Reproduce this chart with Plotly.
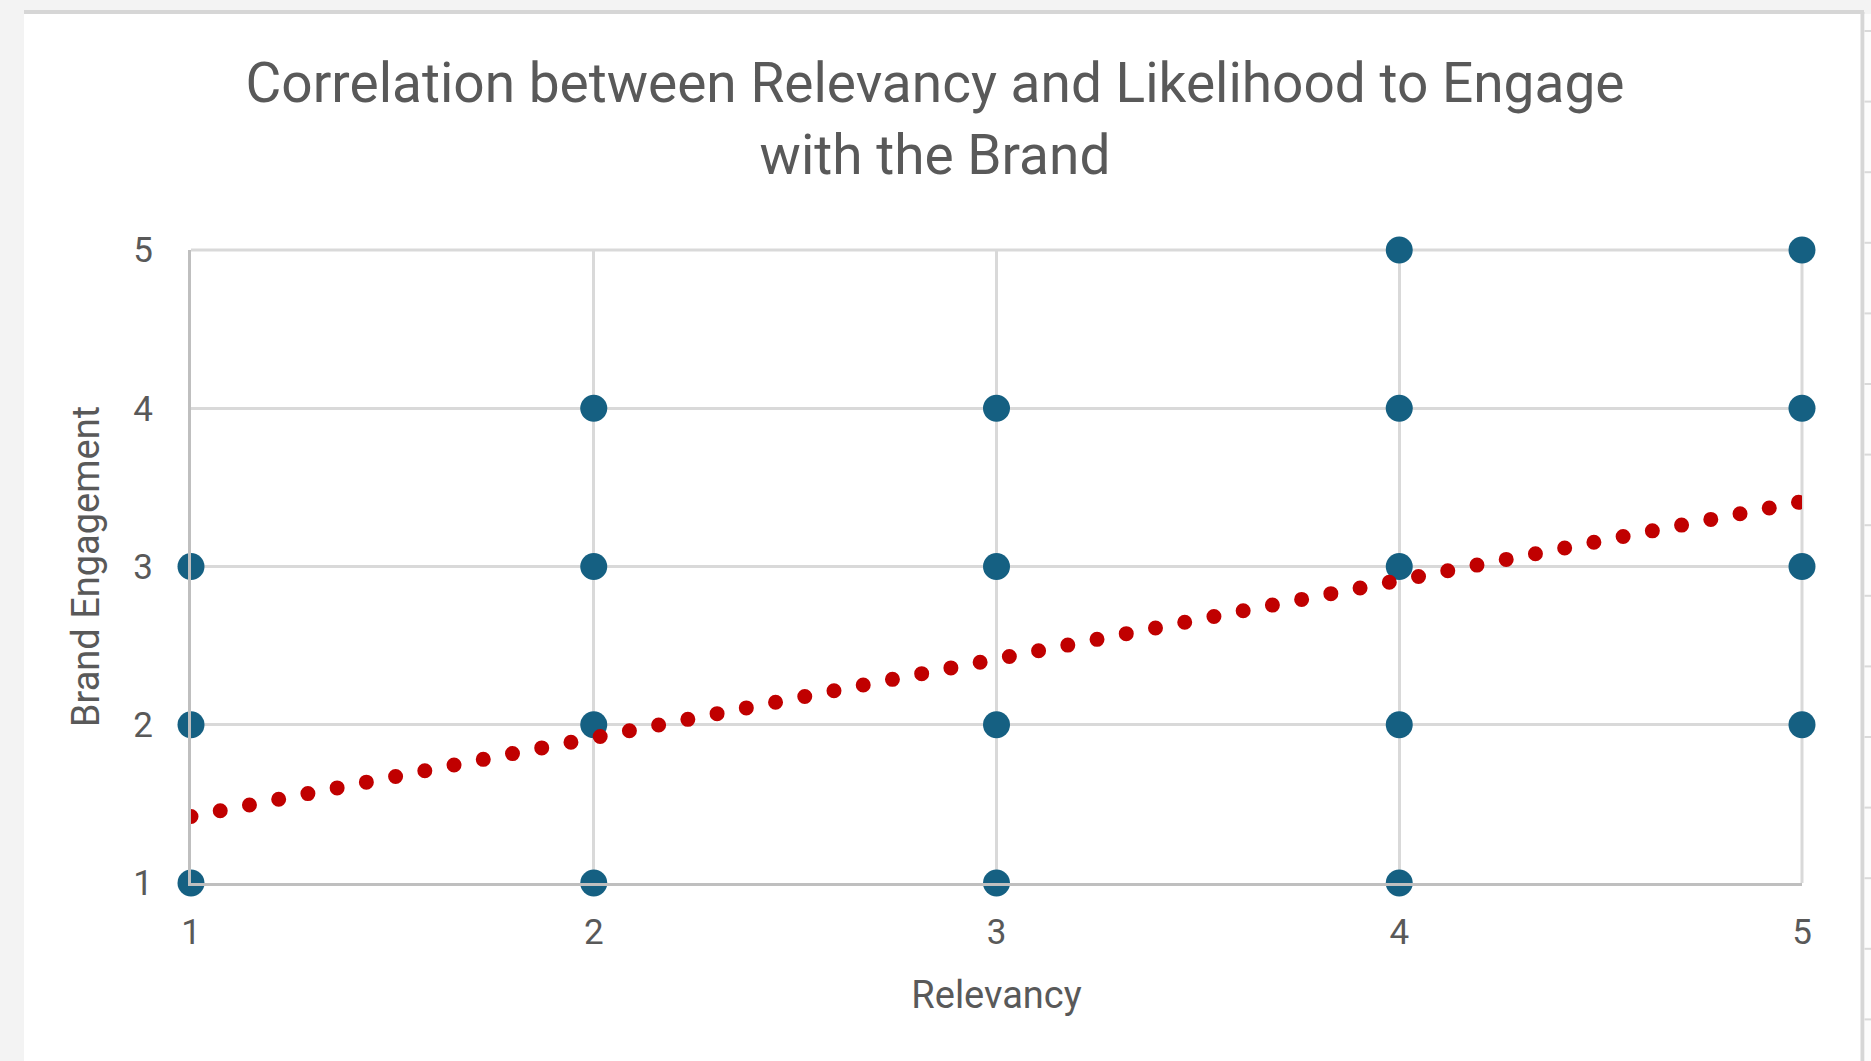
import numpy as np
import plotly.graph_objects as go

# Survey responses: relevancy score, brand engagement score, number of respondents
relevancy = [1, 1, 1, 2, 2, 2, 2, 3, 3, 3, 3, 4, 4, 4, 4, 4, 5, 5, 5, 5]
engagement = [1, 2, 3, 1, 2, 3, 4, 1, 2, 3, 4, 1, 2, 3, 4, 5, 2, 3, 4, 5]
respondents = [5, 1, 1, 4, 4, 1, 1, 2, 2, 3, 1, 2, 2, 3, 2, 2, 3, 3, 3, 2]

axis_ticks = [1, 2, 3, 4, 5]

TITLE = "Correlation between Relevancy and Likelihood to Engage<br>with the Brand"
X_TITLE = "Relevancy"
Y_TITLE = "Brand Engagement"

# Linear trendline fitted over every individual response
xs = np.repeat(relevancy, respondents)
ys = np.repeat(engagement, respondents)
slope, intercept = np.polyfit(xs, ys, 1)
trend_x = [min(relevancy), max(relevancy)]
trend_y = [intercept + slope * v for v in trend_x]

W_PX, H_PX = 1871, 1061
L, R, T, B = 191, 1802, 250, 883
PW, PH = R - L, B - T

TEXT = "#595959"
GRID = "#D9D9D9"
FONT = "Roboto"


def px(x):
    return (x - L) / PW


def py(y):
    return (B - y) / PH


fig = go.Figure()

fig.add_trace(go.Scatter(
    x=relevancy, y=engagement, mode="markers",
    marker=dict(size=27, color="#156082", line=dict(width=0)),
    cliponaxis=False, showlegend=False, hoverinfo="x+y",
))

fig.add_trace(go.Scatter(
    x=trend_x, y=trend_y, mode="lines",
    line=dict(color="#C00000", width=15, dash="0px,29.78px"),
    showlegend=False, hoverinfo="skip",
))

shapes = [
    # white chart panel on the grey sheet
    dict(type="rect", xref="paper", yref="paper", layer="below",
         x0=px(24), x1=px(1862), y0=py(W_PX), y1=py(12),
         fillcolor="white", line=dict(width=0)),
    dict(type="line", xref="paper", yref="paper", layer="below",
         x0=px(24), x1=px(1864), y0=py(12), y1=py(12),
         line=dict(color="#D6D6D6", width=4)),
    dict(type="line", xref="paper", yref="paper", layer="below",
         x0=px(1862.5), x1=px(1862.5), y0=py(12), y1=py(1070),
         line=dict(color="#D6D6D6", width=4)),
    dict(type="rect", xref="paper", yref="paper", layer="below",
         x0=px(1864.5), x1=px(1880), y0=py(1070), y1=py(14),
         fillcolor="#FCFCFC", line=dict(width=0)),
    # top and right edges of the plot frame, drawn like the grid
    dict(type="line", xref="paper", yref="paper", layer="below",
         x0=0, x1=1, y0=1, y1=1, line=dict(color=GRID, width=3)),
    dict(type="line", xref="paper", yref="paper", layer="below",
         x0=1, x1=1, y0=0, y1=1, line=dict(color=GRID, width=3)),
]
yy = 31.0
while yy < H_PX:
    shapes.append(dict(type="line", xref="paper", yref="paper", layer="below",
                       x0=px(1864.5), x1=px(1880), y0=py(yy), y1=py(yy),
                       line=dict(color="#D9D9D9", width=2)))
    yy += 70.6

fig.update_layout(
    width=W_PX, height=H_PX,
    margin=dict(l=L, r=W_PX - R, t=T, b=H_PX - B, pad=0),
    paper_bgcolor="#F3F3F3",
    plot_bgcolor="rgba(0,0,0,0)",
    font=dict(family=FONT, color=TEXT, size=35),
    title=dict(text=TITLE, x=935 / W_PX, xref="container", xanchor="center",
               y=1 - 102 / H_PX, yref="container", yanchor="middle",
               font=dict(family=FONT, size=55, color=TEXT)),
    shapes=shapes,
    xaxis=dict(range=[1, 5], tickvals=axis_ticks, showgrid=True, gridcolor=GRID,
               gridwidth=3, zeroline=False, showline=True, linecolor="#BFBFBF",
               linewidth=3, ticks="outside", ticklen=16, tickcolor="rgba(0,0,0,0)",
               tickfont=dict(size=35, color=TEXT),
               title=dict(text=X_TITLE, font=dict(size=38, color=TEXT), standoff=30)),
    yaxis=dict(range=[1, 5], tickvals=axis_ticks, showgrid=True, gridcolor=GRID,
               gridwidth=3, zeroline=False, showline=True, linecolor="#BFBFBF",
               linewidth=3, ticks="outside", ticklen=28, tickcolor="rgba(0,0,0,0)",
               tickfont=dict(size=35, color=TEXT),
               title=dict(text=Y_TITLE, font=dict(size=38, color=TEXT), standoff=23)),
)

post = """
document.body.style.margin = '0';
document.querySelectorAll('.scatterlayer .js-line').forEach(function (p) {
  p.style.strokeLinecap = 'round';
});
"""

fig.write_html("out.html", post_script=post, config={"responsive": False, "displayModeBar": False})
